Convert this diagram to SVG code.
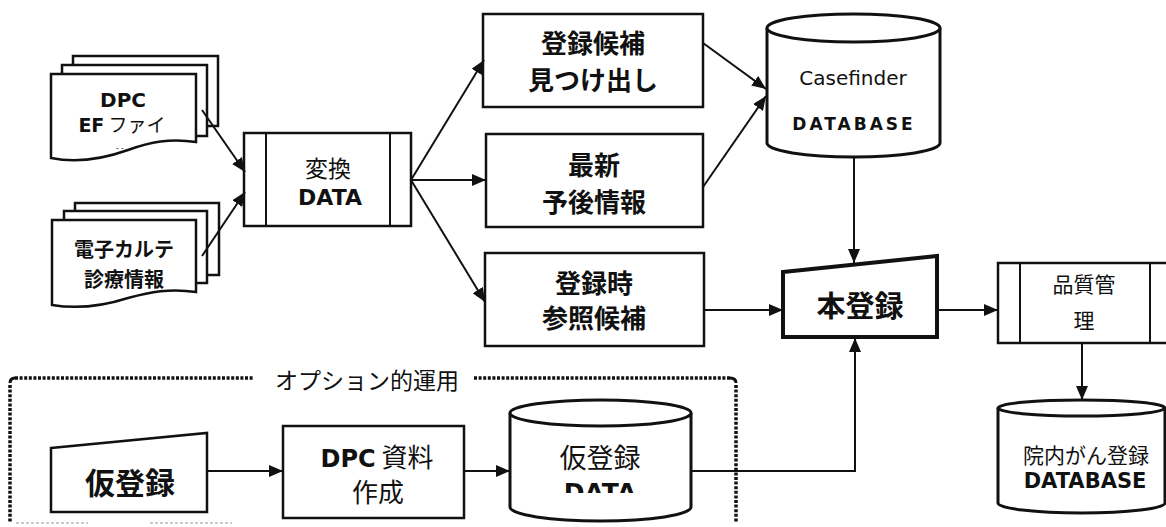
<svg xmlns="http://www.w3.org/2000/svg" width="1166" height="527" viewBox="0 0 1166 527">
<defs>
<style>
.box{fill:#fff;stroke:#111;stroke-width:2.5}
.thick{fill:#fff;stroke:#111;stroke-width:4}
.cyl{fill:#fff;stroke:#111;stroke-width:3}
.ln{fill:none;stroke:#111;stroke-width:2}
.con{fill:none;stroke:#111;stroke-width:2}
.dot{fill:none;stroke:#111;stroke-width:3.5;stroke-dasharray:3 1.6}
.jp{font-family:"Noto Sans CJK JP","Noto Sans",sans-serif;fill:#111;text-anchor:middle}
.jpb{font-family:"Noto Sans CJK JP","Noto Sans",sans-serif;fill:#111;text-anchor:middle;font-weight:700}
.lat{font-family:"DejaVu Sans","Noto Sans CJK JP",sans-serif;fill:#111;text-anchor:middle}
.latb{font-family:"DejaVu Sans","Noto Sans CJK JP",sans-serif;fill:#111;text-anchor:middle;font-weight:700}
</style>
<marker id="ah" markerUnits="userSpaceOnUse" markerWidth="14" markerHeight="12" refX="14" refY="6" orient="auto">
<path d="M0,0 L14,6 L0,12 Z" fill="#111"/>
</marker>
<clipPath id="clipEF"><rect x="40" y="60" width="180" height="89"/></clipPath>
<clipPath id="clipDATA"><rect x="500" y="400" width="200" height="93"/></clipPath>
</defs>

<g id="doc-dpc">
<rect class="box" x="73" y="56" width="145" height="70"/>
<rect class="box" x="62" y="65" width="145" height="71"/>
<path class="box" d="M51,74 H196 V142 C170,138 150,142 128,150 C100,160 75,163 51,158 Z"/>
<text class="latb" x="123" y="107" font-size="20">DPC</text>
<text class="jp" x="122" y="132" font-size="19"><tspan font-weight="700" font-family="DejaVu Sans">EF</tspan> ファイ</text>
<text class="jp" x="121" y="163" font-size="19" clip-path="url(#clipEF)">ル</text>
</g>

<g id="doc-karte">
<rect class="box" x="75" y="203" width="144" height="72"/>
<rect class="box" x="64" y="211" width="143" height="72"/>
<path class="box" d="M52,220 H196 V292 C170,288 150,292 128,298 C100,307 76,309 52,305 Z"/>
<text class="jpb" x="124" y="257" font-size="20">電子カルテ</text>
<text class="jpb" x="124" y="287" font-size="20">診療情報</text>
</g>

<g id="henkan">
<rect class="box" x="244" y="133" width="167" height="93"/>
<line class="ln" x1="266" y1="133" x2="266" y2="226"/>
<line class="ln" x1="390" y1="133" x2="390" y2="226"/>
<text class="jp" x="328" y="177" font-size="23">変換</text>
<text class="latb" x="330" y="205" font-size="22">DATA</text>
</g>

<g id="kouho">
<rect class="box" x="483" y="14" width="220" height="93"/>
<text class="jpb" x="593" y="53" font-size="26">登録候補</text>
<text class="jpb" x="593" y="90" font-size="26">見つけ出し</text>
</g>

<g id="saishin">
<rect class="box" x="486" y="134" width="217" height="93"/>
<text class="jpb" x="594" y="175" font-size="26">最新</text>
<text class="jpb" x="594" y="212" font-size="26">予後情報</text>
</g>

<g id="sansho">
<rect class="box" x="485" y="253" width="219" height="93"/>
<text class="jpb" x="594" y="293" font-size="26">登録時</text>
<text class="jpb" x="594" y="328" font-size="26">参照候補</text>
</g>

<g id="casefinder">
<path class="cyl" d="M767,28 V143 A86.5,14 0 0 0 940,143 V28"/>
<ellipse class="cyl" cx="853.5" cy="28" rx="86.5" ry="14"/>
<text class="lat" x="853" y="85" font-size="20">Casefinder</text>
<text class="latb" x="854" y="130" font-size="17" letter-spacing="3">DATABASE</text>
</g>

<g id="honroku">
<polygon class="thick" points="783,272 937,256 937,337 783,337"/>
<text class="jpb" x="860" y="317" font-size="29">本登録</text>
</g>

<g id="hinshitsu">
<rect class="box" x="998" y="263" width="180" height="80"/>
<line class="ln" x1="1020" y1="263" x2="1020" y2="343"/>
<line class="ln" x1="1150" y1="263" x2="1150" y2="343"/>
<text class="jp" x="1084" y="292" font-size="21">品質管</text>
<text class="jp" x="1084" y="328" font-size="21">理</text>
</g>

<g id="innai">
<path class="cyl" d="M998,408 V503 A83.5,10 0 0 0 1165,503 V408"/>
<ellipse class="cyl" cx="1081.5" cy="408" rx="83.5" ry="8"/>
<text class="jp" x="1086" y="463" font-size="21">院内がん登録</text>
<text class="latb" x="1085" y="488" font-size="21">DATABASE</text>
</g>

<g id="option-frame">
<path class="dot" d="M15,378 H254"/>
<path class="dot" d="M474,378 H730"/>
<path class="dot" d="M10,385 V522"/>
<path d="M15,378 Q10,378 10,383" fill="none" stroke="#111" stroke-width="3"/>
<path d="M730,378 Q736,378 736,383" fill="none" stroke="#111" stroke-width="3"/>
<path class="dot" d="M736,385 V522"/>
<path d="M16,523 H88 M150,523 H232" fill="none" stroke="#bbb" stroke-width="1.5" stroke-dasharray="3 2"/>
<text class="jp" x="367" y="389" font-size="23">オプション的運用</text>
</g>

<g id="karitouroku">
<polygon class="box" points="51,448 207,433 207,512 51,512"/>
<text class="jpb" x="130" y="494" font-size="30">仮登録</text>
</g>

<g id="dpc-shiryo">
<rect class="box" x="283" y="426" width="181" height="92"/>
<text class="jp" x="377" y="467" font-size="26"><tspan font-family="DejaVu Sans" font-weight="700" font-size="24">DPC</tspan> 資料</text>
<text class="jp" x="378" y="502" font-size="26">作成</text>
</g>

<g id="kari-data">
<path class="cyl" d="M510,413 V507 A90.5,14 0 0 0 691,507 V413"/>
<ellipse class="cyl" cx="600.5" cy="413" rx="90.5" ry="13"/>
<text class="jp" x="600" y="468" font-size="27">仮登録</text>
<text class="latb" x="600" y="501" font-size="25" clip-path="url(#clipDATA)">DATA</text>
</g>

<g id="connectors">
<line class="con" x1="202" y1="110" x2="245" y2="172" marker-end="url(#ah)"/>
<line class="con" x1="202" y1="256" x2="245" y2="192" marker-end="url(#ah)"/>
<line class="con" x1="411" y1="180" x2="484" y2="60" marker-end="url(#ah)"/>
<line class="con" x1="411" y1="180" x2="486" y2="180" marker-end="url(#ah)"/>
<line class="con" x1="411" y1="180" x2="485" y2="302" marker-end="url(#ah)"/>
<line class="con" x1="703" y1="43" x2="766" y2="89" marker-end="url(#ah)"/>
<line class="con" x1="703" y1="187" x2="766" y2="96" marker-end="url(#ah)"/>
<line class="con" x1="854" y1="157" x2="854" y2="263" marker-end="url(#ah)"/>
<line class="con" x1="704" y1="310" x2="783" y2="310" marker-end="url(#ah)"/>
<line class="con" x1="937" y1="310" x2="998" y2="310" marker-end="url(#ah)"/>
<line class="con" x1="1082" y1="343" x2="1082" y2="400" marker-end="url(#ah)"/>
<line class="con" x1="207" y1="471" x2="283" y2="471" marker-end="url(#ah)"/>
<line class="con" x1="464" y1="471" x2="510" y2="471" marker-end="url(#ah)"/>
<polyline class="con" points="691,471 855,471 855,338" marker-end="url(#ah)"/>
</g>
</svg>
